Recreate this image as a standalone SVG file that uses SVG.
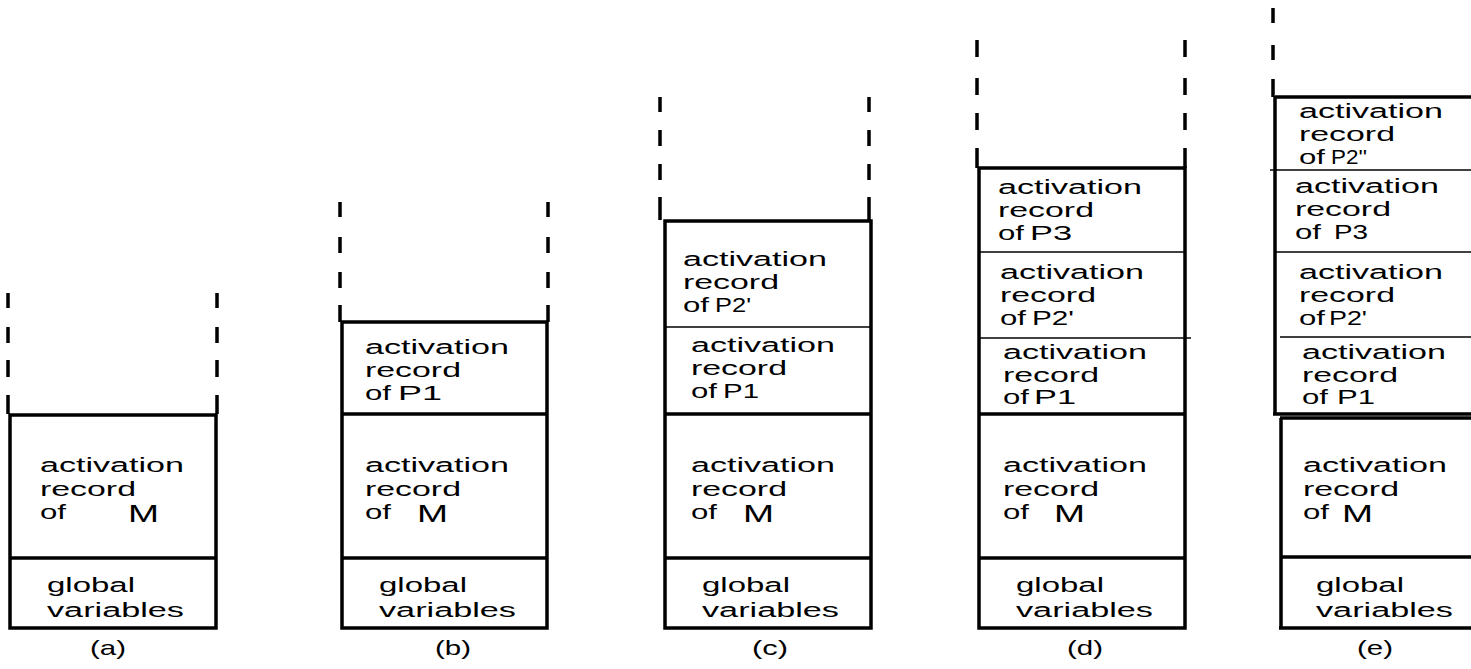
<svg xmlns="http://www.w3.org/2000/svg" width="1471" height="669" viewBox="0 0 1471 669">
<style>
  .bg{fill:#fff}
  .box{fill:none;stroke:#000;stroke-width:3.5}
  .thick{stroke:#000;stroke-width:3.5;fill:none}
  .thin{stroke:#000;stroke-width:1.5;fill:none}
  .dash{stroke:#000;stroke-width:3.5;fill:none;stroke-linecap:butt}
  text{font-family:"Liberation Sans",Arial,sans-serif;font-size:20px;fill:#000}
  .big{font-size:24px}
  .lbl{font-size:21px}
</style>
<rect class="bg" x="0" y="0" width="1471" height="669"/>

<!-- (a) -->
<g id="stack-a">
  <path class="dash" d="M8 293V308M8 327V343M8 360V377M8 395V414M217 293V308M217 327V343M217 360V377M217 395V414"/>
  <rect class="box" x="10" y="415" width="206" height="213"/>
  <g id="a-M">
    <text x="40" y="472" textLength="144" lengthAdjust="spacingAndGlyphs">activation</text>
    <text x="40" y="496" textLength="96" lengthAdjust="spacingAndGlyphs">record</text>
    <text x="40" y="519" textLength="26" lengthAdjust="spacingAndGlyphs">of</text>
    <text class="big" x="128" y="522" textLength="31" lengthAdjust="spacingAndGlyphs">M</text>
  </g>
  <line class="thick" x1="10" y1="558" x2="216" y2="558"/>
  <g id="a-global">
    <text x="47" y="592" textLength="88" lengthAdjust="spacingAndGlyphs">global</text>
    <text x="47" y="617" textLength="137" lengthAdjust="spacingAndGlyphs">variables</text>
  </g>
  <text class="lbl" x="108" y="655" text-anchor="middle" textLength="36" lengthAdjust="spacingAndGlyphs">(a)</text>
</g>

<!-- (b) -->
<g id="stack-b">
  <path class="dash" d="M340 202V217M340 237V253M340 272V288M340 305V322M548 202V217M548 237V253M548 272V288M548 305V322"/>
  <rect class="box" x="342" y="322" width="205" height="306"/>
  <g id="b-P1">
    <text x="365" y="354" textLength="144" lengthAdjust="spacingAndGlyphs">activation</text>
    <text x="365" y="377" textLength="96" lengthAdjust="spacingAndGlyphs">record</text>
    <text x="365" y="400" textLength="26" lengthAdjust="spacingAndGlyphs">of</text>
    <text x="398" y="400" textLength="44" lengthAdjust="spacingAndGlyphs">P1</text>
  </g>
  <line class="thick" x1="342" y1="414" x2="547" y2="414"/>
  <g id="b-M">
    <text x="365" y="472" textLength="144" lengthAdjust="spacingAndGlyphs">activation</text>
    <text x="365" y="496" textLength="96" lengthAdjust="spacingAndGlyphs">record</text>
    <text x="365" y="519" textLength="26" lengthAdjust="spacingAndGlyphs">of</text>
    <text class="big" x="417" y="522" textLength="31" lengthAdjust="spacingAndGlyphs">M</text>
  </g>
  <line class="thick" x1="342" y1="558" x2="547" y2="558"/>
  <g id="b-global">
    <text x="379" y="592" textLength="88" lengthAdjust="spacingAndGlyphs">global</text>
    <text x="379" y="617" textLength="137" lengthAdjust="spacingAndGlyphs">variables</text>
  </g>
  <text class="lbl" x="453" y="655" text-anchor="middle" textLength="36" lengthAdjust="spacingAndGlyphs">(b)</text>
</g>

<!-- (c) -->
<g id="stack-c">
  <path class="dash" d="M660 97V112M660 130V146M660 164V180M660 197V220M869 97V112M869 130V146M869 164V180M869 197V220"/>
  <rect class="box" x="665" y="221" width="206" height="407"/>
  <g id="c-P2p">
    <text x="683" y="266" textLength="144" lengthAdjust="spacingAndGlyphs">activation</text>
    <text x="683" y="289" textLength="96" lengthAdjust="spacingAndGlyphs">record</text>
    <text x="683" y="312" textLength="26" lengthAdjust="spacingAndGlyphs">of</text>
    <text x="715" y="312" textLength="36" lengthAdjust="spacingAndGlyphs">P2'</text>
  </g>
  <line class="thin" x1="665" y1="327" x2="871" y2="327"/>
  <g id="c-P1">
    <text x="691" y="352" textLength="144" lengthAdjust="spacingAndGlyphs">activation</text>
    <text x="691" y="375" textLength="96" lengthAdjust="spacingAndGlyphs">record</text>
    <text x="691" y="398" textLength="26" lengthAdjust="spacingAndGlyphs">of</text>
    <text x="723" y="398" textLength="36" lengthAdjust="spacingAndGlyphs">P1</text>
  </g>
  <line class="thick" x1="665" y1="414" x2="871" y2="414"/>
  <g id="c-M">
    <text x="691" y="472" textLength="144" lengthAdjust="spacingAndGlyphs">activation</text>
    <text x="691" y="496" textLength="96" lengthAdjust="spacingAndGlyphs">record</text>
    <text x="691" y="519" textLength="26" lengthAdjust="spacingAndGlyphs">of</text>
    <text class="big" x="743" y="522" textLength="31" lengthAdjust="spacingAndGlyphs">M</text>
  </g>
  <line class="thick" x1="665" y1="558" x2="871" y2="558"/>
  <g id="c-global">
    <text x="702" y="592" textLength="88" lengthAdjust="spacingAndGlyphs">global</text>
    <text x="702" y="617" textLength="137" lengthAdjust="spacingAndGlyphs">variables</text>
  </g>
  <text class="lbl" x="770" y="655" text-anchor="middle" textLength="36" lengthAdjust="spacingAndGlyphs">(c)</text>
</g>

<!-- (d) -->
<g id="stack-d">
  <path class="dash" d="M977 40V57M977 78V95M977 113V130M977 148V168M1185 40V57M1185 78V95M1185 113V130M1185 148V168"/>
  <rect class="box" x="979" y="168" width="206" height="460"/>
  <g id="d-P3">
    <text x="998" y="194" textLength="144" lengthAdjust="spacingAndGlyphs">activation</text>
    <text x="998" y="217" textLength="96" lengthAdjust="spacingAndGlyphs">record</text>
    <text x="998" y="240" textLength="26" lengthAdjust="spacingAndGlyphs">of</text>
    <text x="1030" y="240" textLength="42" lengthAdjust="spacingAndGlyphs">P3</text>
  </g>
  <line class="thin" x1="979" y1="252" x2="1185" y2="252"/>
  <g id="d-P2p">
    <text x="1000" y="279" textLength="144" lengthAdjust="spacingAndGlyphs">activation</text>
    <text x="1000" y="302" textLength="96" lengthAdjust="spacingAndGlyphs">record</text>
    <text x="1000" y="325" textLength="26" lengthAdjust="spacingAndGlyphs">of</text>
    <text x="1032" y="325" textLength="42" lengthAdjust="spacingAndGlyphs">P2'</text>
  </g>
  <line class="thin" x1="979" y1="338" x2="1191" y2="338"/>
  <g id="d-P1">
    <text x="1003" y="359" textLength="144" lengthAdjust="spacingAndGlyphs">activation</text>
    <text x="1003" y="382" textLength="96" lengthAdjust="spacingAndGlyphs">record</text>
    <text x="1003" y="404" textLength="26" lengthAdjust="spacingAndGlyphs">of</text>
    <text x="1034" y="404" textLength="42" lengthAdjust="spacingAndGlyphs">P1</text>
  </g>
  <line class="thick" x1="979" y1="414" x2="1185" y2="414"/>
  <g id="d-M">
    <text x="1003" y="472" textLength="144" lengthAdjust="spacingAndGlyphs">activation</text>
    <text x="1003" y="496" textLength="96" lengthAdjust="spacingAndGlyphs">record</text>
    <text x="1003" y="519" textLength="26" lengthAdjust="spacingAndGlyphs">of</text>
    <text class="big" x="1054" y="522" textLength="31" lengthAdjust="spacingAndGlyphs">M</text>
  </g>
  <line class="thick" x1="979" y1="558" x2="1185" y2="558"/>
  <g id="d-global">
    <text x="1016" y="592" textLength="88" lengthAdjust="spacingAndGlyphs">global</text>
    <text x="1016" y="617" textLength="137" lengthAdjust="spacingAndGlyphs">variables</text>
  </g>
  <text class="lbl" x="1085" y="655" text-anchor="middle" textLength="36" lengthAdjust="spacingAndGlyphs">(d)</text>
</g>

<!-- (e) -->
<g id="stack-e">
  <path class="dash" d="M1273 8V23M1273 45V60M1273 79V97"/>
  <path class="thick" d="M1275 97H1480M1275 96V414M1273 414H1480"/>
  <g id="e-P2pp">
    <text x="1299" y="118" textLength="144" lengthAdjust="spacingAndGlyphs">activation</text>
    <text x="1299" y="141" textLength="96" lengthAdjust="spacingAndGlyphs">record</text>
    <text x="1299" y="164" textLength="26" lengthAdjust="spacingAndGlyphs">of</text>
    <text x="1331" y="164" textLength="36" lengthAdjust="spacingAndGlyphs">P2''</text>
  </g>
  <line class="thin" x1="1270" y1="170" x2="1480" y2="170"/>
  <g id="e-P3">
    <text x="1295" y="193" textLength="144" lengthAdjust="spacingAndGlyphs">activation</text>
    <text x="1295" y="216" textLength="96" lengthAdjust="spacingAndGlyphs">record</text>
    <text x="1295" y="239" textLength="26" lengthAdjust="spacingAndGlyphs">of</text>
    <text x="1334" y="239" textLength="34" lengthAdjust="spacingAndGlyphs">P3</text>
  </g>
  <line class="thin" x1="1275" y1="252" x2="1480" y2="252"/>
  <g id="e-P2p">
    <text x="1299" y="279" textLength="144" lengthAdjust="spacingAndGlyphs">activation</text>
    <text x="1299" y="302" textLength="96" lengthAdjust="spacingAndGlyphs">record</text>
    <text x="1299" y="325" textLength="26" lengthAdjust="spacingAndGlyphs">of</text>
    <text x="1329" y="325" textLength="38" lengthAdjust="spacingAndGlyphs">P2'</text>
  </g>
  <line class="thin" x1="1280" y1="337" x2="1480" y2="337"/>
  <g id="e-P1">
    <text x="1302" y="359" textLength="144" lengthAdjust="spacingAndGlyphs">activation</text>
    <text x="1302" y="382" textLength="96" lengthAdjust="spacingAndGlyphs">record</text>
    <text x="1302" y="404" textLength="26" lengthAdjust="spacingAndGlyphs">of</text>
    <text x="1337" y="404" textLength="38" lengthAdjust="spacingAndGlyphs">P1</text>
  </g>
  <path class="thick" d="M1280 418H1480M1281 418V628M1279 628H1480"/>
  <g id="e-M">
    <text x="1303" y="472" textLength="144" lengthAdjust="spacingAndGlyphs">activation</text>
    <text x="1303" y="496" textLength="96" lengthAdjust="spacingAndGlyphs">record</text>
    <text x="1303" y="519" textLength="26" lengthAdjust="spacingAndGlyphs">of</text>
    <text class="big" x="1342" y="522" textLength="31" lengthAdjust="spacingAndGlyphs">M</text>
  </g>
  <line class="thick" x1="1281" y1="557" x2="1480" y2="557"/>
  <g id="e-global">
    <text x="1316" y="592" textLength="88" lengthAdjust="spacingAndGlyphs">global</text>
    <text x="1316" y="617" textLength="137" lengthAdjust="spacingAndGlyphs">variables</text>
  </g>
  <text class="lbl" x="1375" y="655" text-anchor="middle" textLength="36" lengthAdjust="spacingAndGlyphs">(e)</text>
</g>

<g id="connectors"></g>
</svg>
